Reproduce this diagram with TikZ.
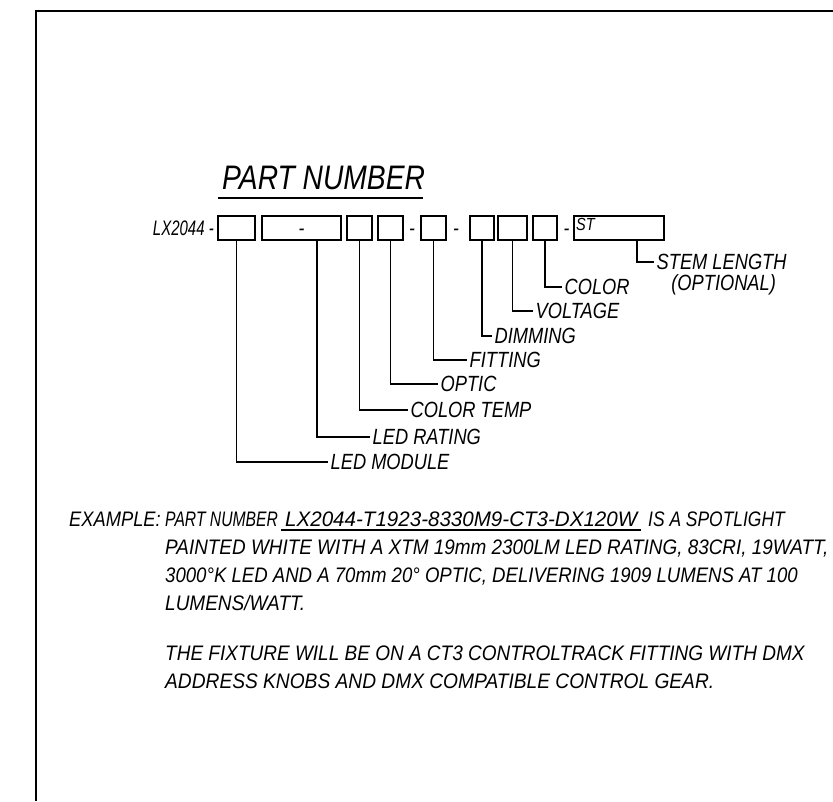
\documentclass[tikz,border=0pt]{standalone}
\usepackage{fontspec}
\usepackage{graphicx}
\setmainfont{Liberation Sans}[FakeStretch=0.83]
\usetikzlibrary{calc}
\begin{document}
\begin{tikzpicture}[x=1pt,y=-1pt,
  box/.style={draw, line width=1.8pt, inner sep=0pt, minimum height=24pt, anchor=center},
  lab/.style={font=\fontsize{22}{24}\selectfont\itshape, inner xsep=2.5pt, inner ysep=0pt, anchor=west},
  lead/.style={line width=1.8pt},
  ex/.style={font=\fontsize{21}{24}\selectfont\itshape, inner sep=0pt, anchor=base west},
  sep/.style={font=\fontsize{21}{24}\selectfont\itshape, inner sep=0pt, anchor=base},
  ttl/.style={font=\fontsize{34}{36}\selectfont\itshape, inner sep=0pt, anchor=base west}]
\useasboundingbox (0,0) rectangle (833,801);
% frame
\coordinate (fbl) at (36,801);
\coordinate (ftl) at (36,11);
\coordinate (ftr) at (833,11);
\draw[line width=2pt] (fbl) -- (ftl) -- (ftr);
% title
\node[ttl] (title) at (222,189) {PART NUMBER};
\draw[lead] ($(title.base west)+(-4,9)$) -- ($(title.base east)+(-2,9)$);
% boxes
\node[sep, anchor=base east] (pre) at (214,235.5) {\scalebox{0.86}[1]{LX2044 -}};
\node[box, minimum width=37pt] (b1) at (236.5,228) {};
\node[box, minimum width=79pt] (b2) at (301.5,228) {};
\node[sep] (d0) at (b2.center |- 0,235.5) {-};
\node[box, minimum width=25pt] (b3) at (359.5,228) {};
\node[box, minimum width=25pt] (b4) at (390.5,228) {};
\node[sep] (d1) at (412,235.5) {-};
\node[box, minimum width=25pt] (b5) at (433.5,228) {};
\node[sep] (d2) at (456,235.5) {-};
\node[box, minimum width=24pt] (b6) at (482,228) {};
\node[box, minimum width=29pt] (b7) at (512.5,228) {};
\node[box, minimum width=24pt] (b8) at (545,228) {};
\node[sep] (d3) at (566.5,235.5) {-};
\node[box, minimum width=90pt] (b9) at (619,228) {};
\node[font=\fontsize{17.5}{19}\selectfont\itshape, inner sep=0pt, anchor=north west] (st) at (576,218) {ST};
% labels
\node[lab] (l1) at (328,462) {LED MODULE};
\node[lab] (l2) at (370,437) {LED RATING};
\node[lab] (l3) at (408,410) {COLOR TEMP};
\node[lab] (l4) at (438,384) {OPTIC};
\node[lab] (l5) at (467,360) {FITTING};
\node[lab] (l6) at (492,336) {DIMMING};
\node[lab] (l7) at (533,311) {VOLTAGE};
\node[lab] (l8) at (562,287) {COLOR};
\node[lab] (l9) at (654,262) {STEM LENGTH};
\node[lab, anchor=center] (l9b) at ($(l9.center)+(2,23)$) {(OPTIONAL)};
% leaders
\draw[lead] (b1.south) |- (l1.west);
\draw[lead] ([xshift=15.5pt]b2.south) |- (l2.west);
\draw[lead] (b3.south) |- (l3.west);
\draw[lead] (b4.south) |- (l4.west);
\draw[lead] (b5.south) |- (l5.west);
\draw[lead] (b6.south) |- (l6.west);
\draw[lead] (b7.south) |- (l7.west);
\draw[lead] (b8.south) |- (l8.west);
\draw[lead] ([xshift=18pt]b9.south) |- (l9.west);
% example
\node[ex] (e0) at (69,526) {\scalebox{1.05}[1]{EXAMPLE:}};
\node[ex] (e1a) at (165,526) {\scalebox{0.9}[1]{PART NUMBER}};
\node[ex] (pn) at (285,526) {\scalebox{1.18}[1]{LX2044-T1923-8330M9-CT3-DX120W}};
\draw[line width=1.5pt] ($(pn.base west)+(-4,4)$) -- ($(pn.base east)+(3,4)$);
\node[ex] (e1b) at (648,526) {IS A SPOTLIGHT};
\node[ex] (e2) at (165,554) {\scalebox{1.085}[1]{PAINTED WHITE WITH A XTM 19mm 2300LM LED RATING, 83CRI, 19WATT,}};
\node[ex] (e3) at (165,582) {\scalebox{1.067}[1]{3000°K LED AND A 70mm 20° OPTIC, DELIVERING 1909 LUMENS AT 100}};
\node[ex] (e4) at (165,610) {\scalebox{1.09}[1]{LUMENS/WATT.}};
\node[ex] (e5) at (165,660) {\scalebox{1.09}[1]{THE FIXTURE WILL BE ON A CT3 CONTROLTRACK FITTING WITH DMX}};
\node[ex] (e6) at (165,688) {\scalebox{1.1}[1]{ADDRESS KNOBS AND DMX COMPATIBLE CONTROL GEAR.}};
\end{tikzpicture}
\end{document}
